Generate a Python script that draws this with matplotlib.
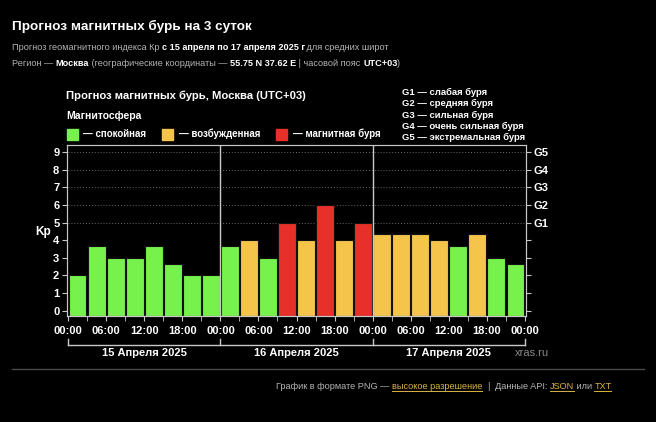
import numpy as np
import matplotlib.pyplot as plt
from matplotlib.lines import Line2D
from matplotlib.patches import Rectangle

plt.rcParams['font.family'] = ['Liberation Sans', 'DejaVu Sans']

# Kp forecast, 3-hour slots, 15-17 April 2025
kp = [2, 3.67, 3, 3, 3.67, 2.67, 2, 2,
      3.67, 4, 3, 5, 4, 6, 4, 5,
      4.33, 4.33, 4.33, 4, 3.67, 4.33, 3, 2.67]
slot_hours = np.arange(0, 72, 3) + 1.5
time_labels = ['00:00', '06:00', '12:00', '18:00'] * 3 + ['00:00']
days = ['15 Апреля 2025', '16 Апреля 2025', '17 Апреля 2025']
g_labels = ['G1', 'G2', 'G3', 'G4', 'G5']
g_desc = ['G1 — слабая буря', 'G2 — средняя буря', 'G3 — сильная буря',
          'G4 — очень сильная буря', 'G5 — экстремальная буря']
legend_names = ['— спокойная', '— возбужденная', '— магнитная буря']

GREEN, YELLOW, RED = '#77f24c', '#f5c44a', '#e8302a'
GRAY = '#b4b4b4'
GOLD = '#d9b440'
W, H = 656, 422


def bar_color(v):
    if v < 4:
        return GREEN
    if v < 5:
        return YELLOW
    return RED


fig = plt.figure(figsize=(W / 100, H / 100), dpi=100, facecolor='black')
renderer = fig.canvas.get_renderer()


def fx(px):
    return px / W


def fy(py):
    return 1 - py / H


def text_width(s, **kw):
    # measure with a trailing dot so trailing spaces count
    t1 = fig.text(0, 0, s + '.', **kw)
    t2 = fig.text(0, 0, '.', **kw)
    w = t1.get_window_extent(renderer).width - t2.get_window_extent(renderer).width
    t1.remove()
    t2.remove()
    return w


def runs(x, y, parts, size):
    # parts: (text, bold, color, underline)
    for s, bold, col, under in parts:
        kw = dict(fontsize=size, fontweight='bold' if bold else 'normal')
        w = text_width(s, **kw)
        fig.text(fx(x), fy(y), s, color=col, va='baseline', ha='left', **kw)
        if under:
            fig.add_artist(Line2D([fx(x), fx(x + w)], [fy(y + 2), fy(y + 2)],
                                  color=col, lw=0.7))
        x += w


# header
fig.text(fx(12), fy(30), 'Прогноз магнитных бурь на 3 суток', color='white',
         fontsize=9.7, fontweight='bold', va='baseline')
runs(12, 50, [('Прогноз геомагнитного индекса Кр ', False, GRAY, False),
              ('с 15 апреля по 17 апреля 2025 г', True, 'white', False),
              (' для средних широт', False, GRAY, False)], 6.6)
runs(12, 66, [('Регион — ', False, GRAY, False),
              ('Москва', True, 'white', False),
              (' (географические координаты — ', False, GRAY, False),
              ('55.75 N 37.62 E', True, 'white', False),
              (' | часовой пояс ', False, GRAY, False),
              ('UTC+03', True, 'white', False),
              (')', False, GRAY, False)], 6.6)

# panel texts
fig.text(fx(66), fy(99), 'Прогноз магнитных бурь, Москва (UTC+03)', color='white',
         fontsize=8.1, fontweight='bold', va='baseline')
fig.text(fx(66), fy(119), 'Магнитосфера', color='white',
         fontsize=7.5, fontweight='bold', va='baseline')
for (sx, tx), name, col in zip([(67, 83), (162, 179), (276, 293)], legend_names,
                               [GREEN, YELLOW, RED]):
    fig.add_artist(Rectangle((fx(sx), fy(140)), fx(11), 11 / H, color=col,
                             transform=fig.transFigure))
    fig.text(fx(tx), fy(137), name, color='white', fontsize=7.0,
             fontweight='bold', va='baseline')
for i, d in enumerate(g_desc):
    fig.text(fx(402), fy(95 + i * 11.3), d, color='white', fontsize=6.8,
             fontweight='bold', va='baseline')

# chart
ymin, ymax = -0.3, 9.4
ax = fig.add_axes([fx(67), fy(316), (526 - 67) / W, (316 - 145) / H])
ax.set_facecolor('black')
ax.bar(slot_hours, np.array(kp) - ymin, bottom=ymin, width=2.75,
       color=[bar_color(v) for v in kp], edgecolor='#111111', linewidth=0.8,
       zorder=2)
ax.hlines(range(5, 10), 0, 72, colors='#6a6a6a', linestyles=(0, (1, 2)),
          lw=0.7, zorder=1)
for d in (24, 48):
    ax.axvline(d, color='#c8c8c8', lw=1, zorder=3)
ax.set_xlim(-0.2, 72.2)
ax.set_ylim(ymin, ymax)
ax.set_yticks(range(10))
ax.set_xticks(range(0, 73, 6))
ax.set_xticklabels(time_labels)
ax.set_xticks(range(3, 72, 6), minor=True)
for s in ax.spines.values():
    s.set_color('#c8c8c8')
ax.tick_params(which='both', color='#c8c8c8', length=3.5, labelcolor='white',
               labelsize=8)
ax.tick_params(axis='x', pad=4)
ax.tick_params(axis='y', pad=2)
for lab in ax.get_xticklabels() + ax.get_yticklabels():
    lab.set_fontweight('bold')

ax2 = ax.twinx()
ax2.set_ylim(ymin, ymax)
ax2.set_yticks(range(10))
ax2.set_yticklabels([''] * 5 + g_labels)
ax2.tick_params(color='#c8c8c8', length=3.5, labelcolor='white', labelsize=8, pad=2)
for s in ax2.spines.values():
    s.set_color('#c8c8c8')
for lab in ax2.get_yticklabels():
    lab.set_fontweight('bold')

fig.text(fx(43), fy(232), 'Kp', color='white', fontsize=8.5, fontweight='bold',
         ha='center', va='center')

# day bracket
x0, x1 = 68, 525
day_px = [x0 + (x1 - x0) * k / 3 for k in range(4)]
fig.add_artist(Line2D([fx(x0), fx(x1)], [fy(345), fy(345)], color='#c8c8c8', lw=1))
for px in day_px:
    fig.add_artist(Line2D([fx(px), fx(px)], [fy(339), fy(345)], color='#c8c8c8', lw=1))
for k, d in enumerate(days):
    fig.text(fx((day_px[k] + day_px[k + 1]) / 2), fy(356), d, color='white',
             fontsize=8, fontweight='bold', ha='center', va='baseline')
fig.text(fx(515), fy(356), 'xras.ru', color='#8a8a8a', fontsize=8, va='baseline')

# footer
fig.add_artist(Line2D([fx(12), fx(644)], [fy(369), fy(369)], color='#4a4a4a', lw=1))
runs(276, 389, [('График в формате PNG — ', False, GRAY, False),
                ('высокое разрешение', False, GOLD, True),
                ('  ', False, GRAY, False),
                ('|', False, GRAY, False),
                ('  Данные API: ', False, GRAY, False),
                ('JSON', False, GOLD, True),
                (' или ', False, GRAY, False),
                ('TXT', False, GOLD, True)], 6.6)

fig.savefig('out.png', dpi=100, facecolor='black')
